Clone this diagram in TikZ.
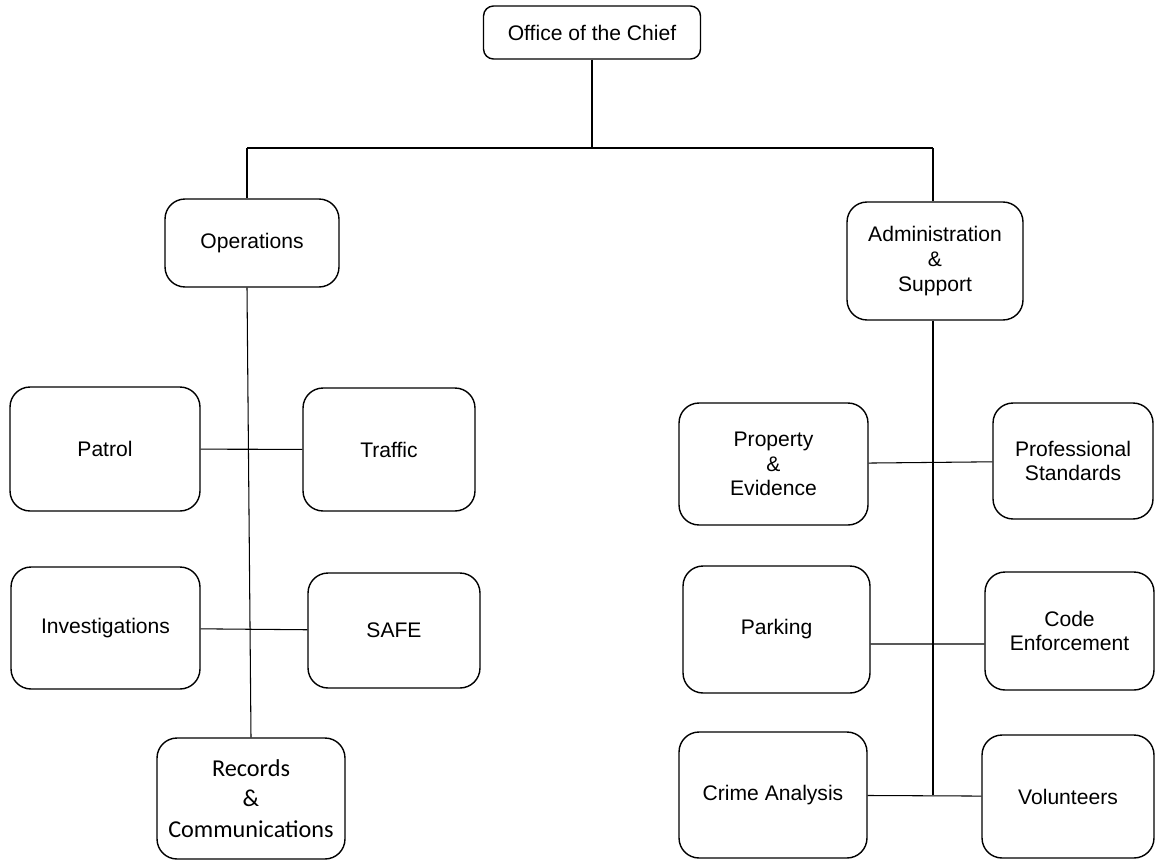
\documentclass[tikz,border=0pt]{standalone}
\usepackage{fontspec}
\setmainfont{Liberation Sans}
\newfontfamily\carlito{Carlito}

\begin{document}
\begin{tikzpicture}[x = 0.02cm, y = -0.02cm,
	unit/.style = {draw, line width = 0.8pt, rounded corners = 0.4cm, align = center,
		inner sep = 0pt, font = \fontsize{12}{14}\selectfont},
	link/.style = {line width = 0.6pt}]
	\useasboundingbox (0,0) rectangle (1155,862);

	\node[unit, rounded corners = 0.2cm, minimum width = 4.34cm, minimum height = 1.06cm]
		(chief) at (592,32.5) {Office of the Chief};
	\node[unit, minimum width = 3.48cm, minimum height = 1.76cm] (ops) at (252,243) {Operations};
	\node[unit, minimum width = 3.52cm, minimum height = 2.36cm] (admin) at (935,261) {Administration\\\&\\Support};

	\node[unit, minimum width = 3.8cm, minimum height = 2.48cm] (patrol) at (105,449) {Patrol};
	\node[unit, minimum width = 3.44cm, minimum height = 2.46cm] (traffic) at (389,449.5) {Traffic};
	\node[unit, minimum width = 3.78cm, minimum height = 2.44cm] (invest) at (105.5,628) {Investigations};
	\node[unit, minimum width = 3.44cm, minimum height = 2.3cm] (safe) at (394,630.5) {SAFE};
	\node[unit, minimum width = 3.76cm, minimum height = 2.42cm, font = \carlito\fontsize{13.8}{17.5}\selectfont]
		(records) at (251,798.5) {Records\\\&\\Communications};

	\node[unit, minimum width = 3.78cm, minimum height = 2.44cm] (property) at (773.5,464) {Property\\\&\\Evidence};
	\node[unit, minimum width = 3.2cm, minimum height = 2.32cm] (prof) at (1073,461) {Professional\\Standards};
	\node[unit, minimum width = 3.74cm, minimum height = 2.54cm] (parking) at (776.5,629.5) {Parking};
	\node[unit, minimum width = 3.38cm, minimum height = 2.36cm] (code) at (1069.5,631) {Code\\Enforcement};
	\node[unit, minimum width = 3.76cm, minimum height = 2.52cm] (crime) at (773,795) {Crime Analysis};
	\node[unit, minimum width = 3.44cm, minimum height = 2.46cm] (vol) at (1068,796.5) {Volunteers};

	\coordinate (hub) at (592,148);
	\coordinate (opsj) at (247,148);
	\coordinate (admj) at (933,148);

	\draw[link] (chief.south) -- (hub);
	\draw[link] (opsj) -- (admj);
	\draw[link] (opsj) -- (opsj |- ops.north);
	\draw[link] (admj) -- (admj |- admin.north);

	\draw[link] (ops.south -| opsj) -- (records.north);
	\draw[link] (patrol) -- (traffic);
	\draw[link] (invest) -- (safe);

	\draw[link] (admin.south -| admj) -- (admj |- crime.east);
	\draw[link] (property) -- (prof);
	\draw[link] ([yshift = -0.29cm]parking.east) -- ([yshift = -0.26cm]code.west);
	\draw[link] (crime) -- (vol);
\end{tikzpicture}
\end{document}
